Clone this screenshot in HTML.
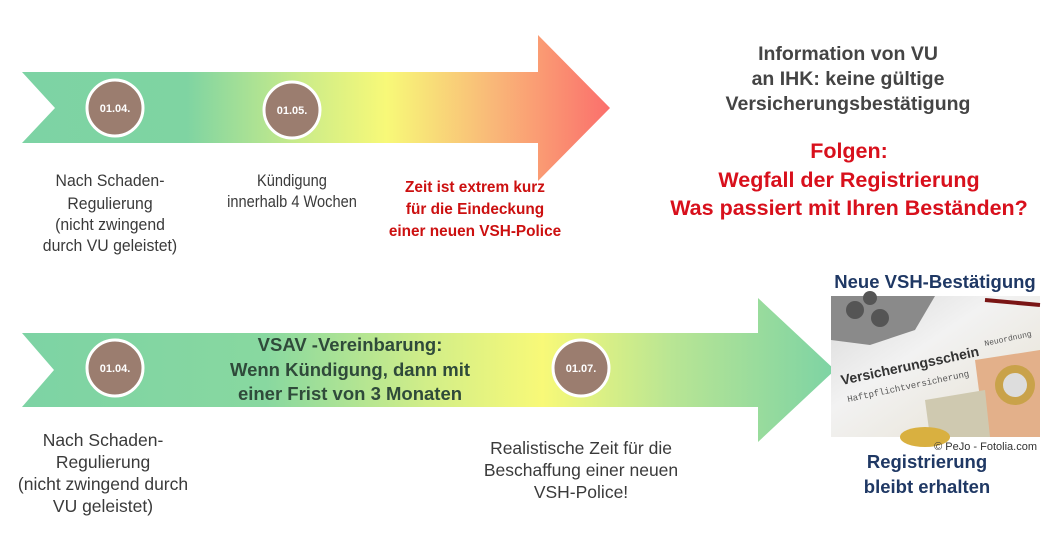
<!DOCTYPE html>
<html><head><meta charset="utf-8"><style>
html,body{margin:0;padding:0;background:#fff;}
svg{display:block;}
.s{font-family:"Liberation Sans","DejaVu Sans",sans-serif;}
</style></head><body>
<svg width="1062" height="548" viewBox="0 0 1062 548" xmlns="http://www.w3.org/2000/svg">
<defs>
<linearGradient id="g1" x1="22" y1="0" x2="610" y2="0" gradientUnits="userSpaceOnUse">
<stop offset="0" stop-color="#7dd3a4"/><stop offset="0.28" stop-color="#7fd4a2"/>
<stop offset="0.47" stop-color="#c9eb8a"/><stop offset="0.62" stop-color="#f8f978"/>
<stop offset="0.8" stop-color="#f9b878"/><stop offset="1" stop-color="#fb6f6c"/>
</linearGradient>
<linearGradient id="g2" x1="22" y1="0" x2="835" y2="0" gradientUnits="userSpaceOnUse">
<stop offset="0" stop-color="#7dd3a4"/><stop offset="0.3" stop-color="#88d8a0"/>
<stop offset="0.5" stop-color="#d2ee88"/><stop offset="0.64" stop-color="#f8f978"/>
<stop offset="0.8" stop-color="#b8e594"/><stop offset="1" stop-color="#7dd3a4"/>
</linearGradient>
<linearGradient id="ph" x1="0" y1="0" x2="1" y2="1">
<stop offset="0" stop-color="#d8d8d8"/><stop offset="0.4" stop-color="#f2f2f2"/><stop offset="1" stop-color="#e6e0d0"/>
</linearGradient>
</defs>
<polygon points="22,72 538,72 538,35 610,108 538,181 538,143 22,143 55,108" fill="url(#g1)"/>
<circle cx="115" cy="108" r="28" fill="#9b7d6f" stroke="#fff" stroke-width="3"/>
<circle cx="292" cy="110" r="28" fill="#9b7d6f" stroke="#fff" stroke-width="3"/>
<text x="115" y="112" class="s" font-size="11" font-weight="bold" fill="#fff" text-anchor="middle">01.04.</text>
<text x="292" y="114" class="s" font-size="11" font-weight="bold" fill="#fff" text-anchor="middle">01.05.</text>
<polygon points="22,333 758,333 758,298 835,370 758,442 758,407 22,407 54,370" fill="url(#g2)"/>
<circle cx="115" cy="368" r="28" fill="#9b7d6f" stroke="#fff" stroke-width="3"/>
<circle cx="581" cy="368" r="28" fill="#9b7d6f" stroke="#fff" stroke-width="3"/>
<text x="115" y="372" class="s" font-size="11" font-weight="bold" fill="#fff" text-anchor="middle">01.04.</text>
<text x="581" y="372" class="s" font-size="11" font-weight="bold" fill="#fff" text-anchor="middle">01.07.</text>

<g class="s" fill="#3a3a3a" text-anchor="middle">
<g transform="translate(110,0) scale(0.93,1)" font-size="17">
<text x="0" y="186">Nach Schaden-</text>
<text x="0" y="209">Regulierung</text>
<text x="0" y="230">(nicht zwingend</text>
<text x="0" y="251">durch VU geleistet)</text></g>
<g transform="translate(292,0) scale(0.86,1)" font-size="17">
<text x="0" y="186">Kündigung</text>
<text x="0" y="207">innerhalb 4 Wochen</text></g>
<g transform="translate(103,0)" font-size="17.5">
<text x="0" y="446">Nach Schaden-</text>
<text x="0" y="468">Regulierung</text>
<text x="0" y="490">(nicht zwingend durch</text>
<text x="0" y="512">VU geleistet)</text></g>
<g transform="translate(581,0)" font-size="17.5">
<text x="0" y="454">Realistische Zeit für die</text>
<text x="0" y="476">Beschaffung einer neuen</text>
<text x="0" y="498">VSH-Police!</text></g>
</g>
<g class="s" font-size="18.5" fill="#2f4a3a" text-anchor="middle" font-weight="bold" transform="translate(350,0)">
<text x="0" y="351">VSAV -Vereinbarung:</text>
<text x="0" y="376">Wenn Kündigung, dann mit</text>
<text x="0" y="400">einer Frist von 3 Monaten</text>
</g>
<g class="s" font-size="16" fill="#cc1010" text-anchor="middle" font-weight="bold" transform="translate(475,0) scale(0.96,1)">
<text x="0" y="192">Zeit ist extrem kurz</text>
<text x="0" y="214">für die Eindeckung</text>
<text x="0" y="236">einer neuen VSH-Police</text>
</g>
<g class="s" font-size="19.5" fill="#444" text-anchor="middle" font-weight="bold" transform="translate(848,0)">
<text x="0" y="60">Information von VU</text>
<text x="0" y="85">an IHK: keine gültige</text>
<text x="0" y="110">Versicherungsbestätigung</text>
</g>
<g class="s" font-size="21.5" fill="#d8101c" text-anchor="middle" font-weight="bold" transform="translate(849,0)">
<text x="0" y="158">Folgen:</text>
<text x="0" y="187">Wegfall der Registrierung</text>
<text x="0" y="215">Was passiert mit Ihren Beständen?</text>
</g>
<text x="935" y="288" class="s" font-size="18.5" font-weight="bold" fill="#1f3864" text-anchor="middle">Neue VSH-Bestätigung</text>
<rect x="831" y="296" width="209" height="141" fill="url(#ph)"/>
<polygon points="831,296 935,296 915,330 870,345 831,340" fill="#8a8a8a"/>
<circle cx="855" cy="310" r="9" fill="#555"/><circle cx="880" cy="318" r="9" fill="#555"/><circle cx="870" cy="298" r="7" fill="#555"/>
<line x1="985" y1="300" x2="1040" y2="305" stroke="#7a1515" stroke-width="4"/>
<text x="842" y="385" class="s" font-size="14" font-weight="bold" fill="#333" transform="rotate(-12 842 385)">Versicherungsschein</text>
<text x="848" y="402" font-family="Liberation Mono,monospace" font-size="9" fill="#555" transform="rotate(-12 848 402)">Haftpflichtversicherung</text>
<text x="985" y="346" font-family="Liberation Mono,monospace" font-size="8" fill="#555" transform="rotate(-12 985 346)">Neuordnung</text>
<polygon points="975,360 1040,350 1040,437 985,437" fill="#e3b08a"/>
<polygon points="925,400 985,390 990,437 930,437" fill="#cfc9b0"/>
<circle cx="1015" cy="385" r="20" fill="#c9a24a"/><circle cx="1015" cy="385" r="12" fill="#ddd"/>
<ellipse cx="925" cy="437" rx="25" ry="10" fill="#d9b040"/>
<text x="1037" y="450" class="s" font-size="11" fill="#333" text-anchor="end">© PeJo - Fotolia.com</text>
<g class="s" font-size="18.5" fill="#1f3864" text-anchor="middle" font-weight="bold" transform="translate(927,0)">
<text x="0" y="468">Registrierung</text>
<text x="0" y="493">bleibt erhalten</text>
</g>
</svg>
</body></html>
